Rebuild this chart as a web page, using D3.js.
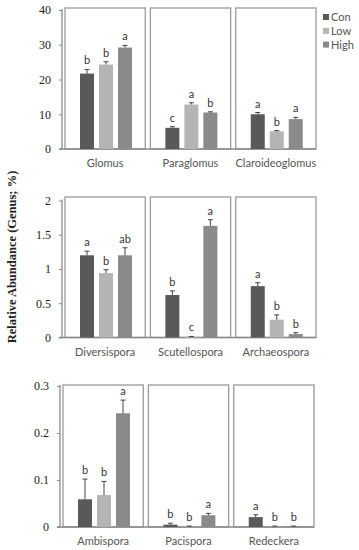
<!DOCTYPE html>
<html>
<head>
<meta charset="utf-8">
<script src="https://cdn.jsdelivr.net/npm/d3@7"></script>
<style>
  body { margin: 0; background: #fff; }
  svg { display: block; }
</style>
</head>
<body>
<svg id="chart" width="359" height="550"></svg>
<script>
// treatments
var groups = ["Con", "Low", "High"];
var groupColors = ["#595959", "#b4b4b4", "#8a8a8a"];

// row 1
var genera1 = ["Glomus", "Paraglomus", "Claroideoglomus"];
var means1 = [[21.7, 24.3, 29.2], [6.1, 12.8, 10.5], [10.0, 5.1, 8.6]];
var errs1 = [[1.2, 0.8, 0.6], [0.3, 0.5, 0.2], [0.5, 0.2, 0.5]];
var letters1 = [["b", "b", "a"], ["c", "a", "b"], ["a", "b", "a"]];
var ticks1 = [0, 10, 20, 30, 40];

// row 2
var genera2 = ["Diversispora", "Scutellospora", "Archaeospora"];
var means2 = [[1.2, 0.94, 1.2], [0.62, 0.01, 1.63], [0.75, 0.26, 0.05]];
var errs2 = [[0.06, 0.05, 0.11], [0.06, 0.005, 0.09], [0.05, 0.07, 0.02]];
var letters2 = [["a", "b", "ab"], ["b", "c", "a"], ["a", "b", "b"]];
var ticks2 = [0, 0.5, 1, 1.5, 2];

// row 3
var genera3 = ["Ambispora", "Pacispora", "Redeckera"];
var means3 = [[0.059, 0.068, 0.242], [0.005, 0.001, 0.025], [0.021, 0.001, 0.001]];
var errs3 = [[0.043, 0.029, 0.028], [0.003, 0.001, 0.004], [0.005, 0.001, 0.001]];
var letters3 = [["b", "b", "a"], ["b", "b", "a"], ["a", "b", "b"]];
var ticks3 = [0, 0.1, 0.2, 0.3];

var svg = d3.select("#chart");

var rows = [
  {genera: genera1, means: means1, errs: errs1, letters: letters1, ticks: ticks1, max: 40, top: 10, bottom: 149, boxTop: 8, left: 62},
  {genera: genera2, means: means2, errs: errs2, letters: letters2, ticks: ticks2, max: 2, top: 200.5, bottom: 337.5, boxTop: 197, left: 62},
  {genera: genera3, means: means3, errs: errs3, letters: letters3, ticks: ticks3, max: 0.3, top: 386, bottom: 527, boxTop: 385, left: 60}
];

var fmt = function(d) { return String(d); };
var sans = "Lato, 'Open Sans', sans-serif";

rows.forEach(function(r) {
  var g = svg.append("g");

  var y = d3.scaleLinear().domain([0, r.max]).range([r.bottom, r.top]);
  var x = d3.scaleBand().domain(r.genera).range([r.left + 3, r.left + 254]).paddingInner(0.06);
  var xi = d3.scaleBand().domain(groups).range([15, 67]).paddingInner(0.263);

  // panel boxes
  g.selectAll("rect.box").data(r.genera).enter().append("rect")
    .attr("class", "box")
    .attr("x", function(d) { return x(d); })
    .attr("y", r.boxTop)
    .attr("width", x.bandwidth())
    .attr("height", r.bottom - r.boxTop)
    .attr("fill", "none")
    .attr("stroke", "#9a9a9a")
    .attr("stroke-width", 1.3);

  // y axis
  var yAxis = d3.axisLeft(y).tickValues(r.ticks).tickFormat(fmt).tickSize(3).tickPadding(8);
  var ax = g.append("g").attr("transform", "translate(" + r.left + ",0)").call(yAxis);
  ax.select(".domain").attr("stroke", "#8a8a8a").attr("stroke-width", 1.3)
    .attr("d", "M0," + (r.top - 1) + "V" + r.bottom);
  ax.selectAll(".tick line").attr("stroke", "#8a8a8a");
  ax.selectAll(".tick text")
    .attr("font-family", "'Liberation Serif', 'DejaVu Serif', serif")
    .attr("font-size", 12)
    .attr("fill", "#222");

  // baseline
  g.append("line")
    .attr("x1", r.left - 3).attr("x2", r.left + 254)
    .attr("y1", r.bottom).attr("y2", r.bottom)
    .attr("stroke", "#8a8a8a").attr("stroke-width", 1.3);

  r.genera.forEach(function(gen, gi) {
    var gg = g.append("g").attr("transform", "translate(" + x(gen) + ",0)");
    var vals = groups.map(function(k, i) {
      return {k: k, i: i, m: r.means[gi][i], e: r.errs[gi][i], l: r.letters[gi][i]};
    });

    gg.selectAll("rect.bar").data(vals).enter().append("rect")
      .attr("class", "bar")
      .attr("x", function(d) { return xi(d.k); })
      .attr("y", function(d) { return y(d.m); })
      .attr("width", xi.bandwidth())
      .attr("height", function(d) { return r.bottom - y(d.m); })
      .attr("fill", function(d) { return groupColors[d.i]; });

    // error bars
    gg.selectAll("line.err").data(vals).enter().append("line")
      .attr("class", "err")
      .attr("x1", function(d) { return xi(d.k) + xi.bandwidth() / 2; })
      .attr("x2", function(d) { return xi(d.k) + xi.bandwidth() / 2; })
      .attr("y1", function(d) { return y(d.m); })
      .attr("y2", function(d) { return y(d.m + d.e); })
      .attr("stroke", "#444").attr("stroke-width", 1);
    gg.selectAll("line.cap").data(vals).enter().append("line")
      .attr("class", "cap")
      .attr("x1", function(d) { return xi(d.k) + xi.bandwidth() / 2 - 2.5; })
      .attr("x2", function(d) { return xi(d.k) + xi.bandwidth() / 2 + 2.5; })
      .attr("y1", function(d) { return y(d.m + d.e); })
      .attr("y2", function(d) { return y(d.m + d.e); })
      .attr("stroke", "#444").attr("stroke-width", 1);

    // significance letters
    gg.selectAll("text.let").data(vals).enter().append("text")
      .attr("class", "let")
      .attr("x", function(d) { return xi(d.k) + xi.bandwidth() / 2; })
      .attr("y", function(d) { return y(d.m + d.e) - 5; })
      .attr("text-anchor", "middle")
      .attr("font-family", sans)
      .attr("font-size", 11)
      .attr("fill", "#333")
      .text(function(d) { return d.l; });

    // genus label
    gg.append("text")
      .attr("x", x.bandwidth() / 2)
      .attr("y", r.bottom + 18)
      .attr("text-anchor", "middle")
      .attr("font-family", sans)
      .attr("font-size", 11)
      .attr("fill", "#555")
      .text(gen);
  });
});

// y axis title
svg.append("text")
  .attr("transform", "translate(16,257) rotate(-90)")
  .attr("text-anchor", "middle")
  .attr("font-family", "'Liberation Serif', 'DejaVu Serif', serif")
  .attr("font-weight", "bold")
  .attr("font-size", 12.5)
  .attr("fill", "#222")
  .text("Relative Abundance (Genus; %)");

// legend
var leg = svg.append("g").attr("transform", "translate(323,17)");
groups.forEach(function(k, i) {
  leg.append("rect")
    .attr("x", 0).attr("y", i * 13.8 - 3)
    .attr("width", 6).attr("height", 6)
    .attr("fill", groupColors[i]);
  leg.append("text")
    .attr("x", 8).attr("y", i * 13.8 + 4)
    .attr("font-family", sans)
    .attr("font-size", 11)
    .attr("fill", "#555")
    .text(k);
});
</script>
</body>
</html>
